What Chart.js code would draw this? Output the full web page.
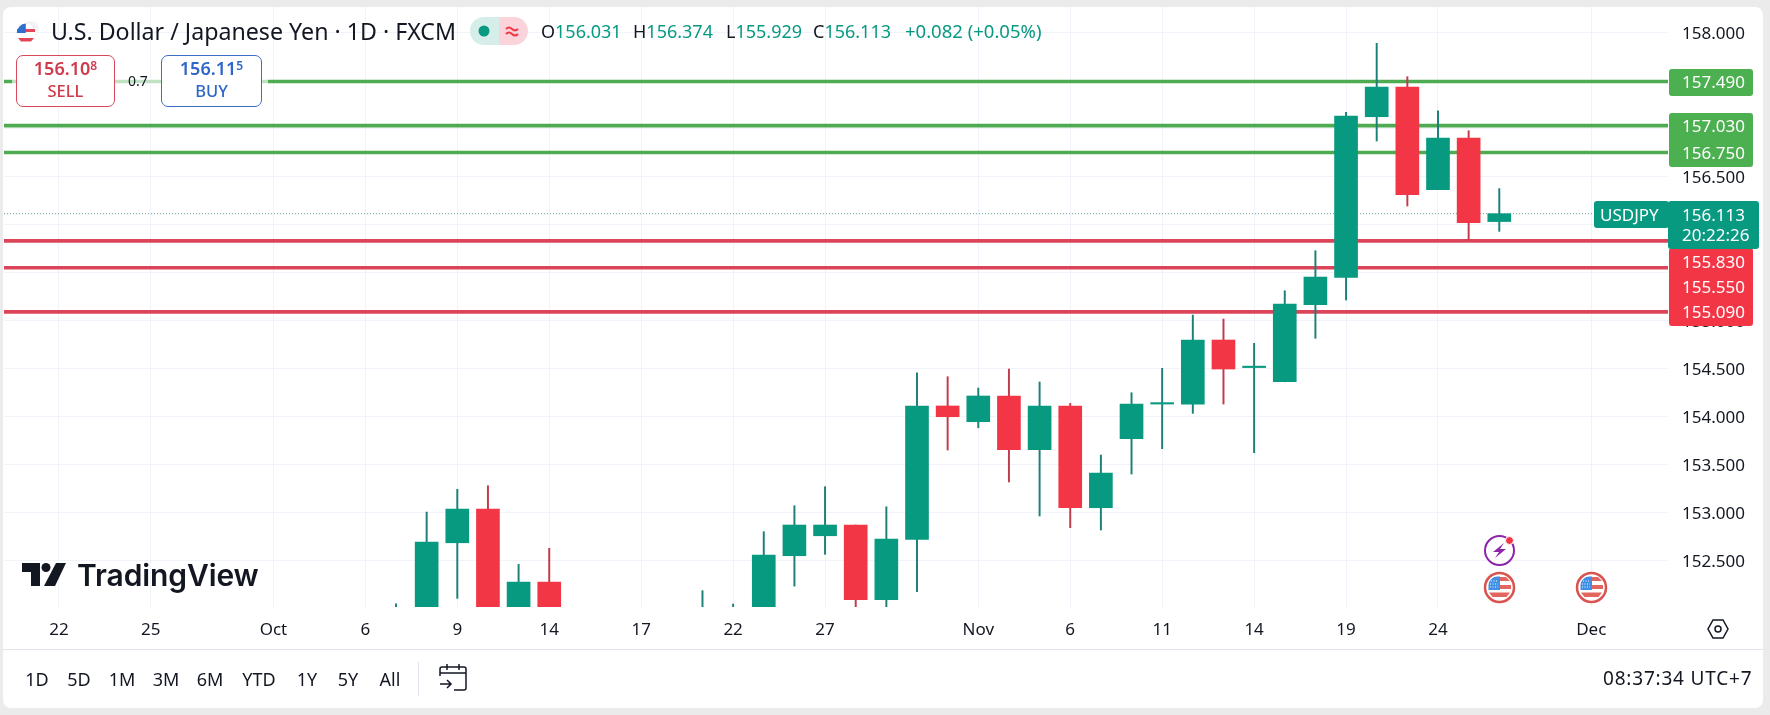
<!DOCTYPE html>
<html>
<head>
<meta charset="utf-8">
<title>USDJPY</title>
<script src="https://cdn.jsdelivr.net/npm/chart.js@4/dist/chart.umd.js"></script>
<style>
html, body { margin: 0; padding: 0; background: #ebebeb; width: 1770px; height: 715px; overflow: hidden; }
body { font-family: "Noto Sans", sans-serif; color: #131722; }
#panel { position: absolute; left: 3px; top: 7px; width: 1760px; height: 701px; background: #fff; border-radius: 8px; }
#sep { position: absolute; left: 3px; top: 649px; width: 1760px; height: 1px; background: #e0e3eb; }
canvas { position: absolute; left: 0; top: 0; }
.t { position: absolute; white-space: nowrap; line-height: 1; }
.g { color: #089981; }
.box { position: absolute; top: 55px; height: 49px; background: #fff; border-radius: 7px; text-align: center; font-size: 16.5px; font-weight: 500; line-height: 22px; padding-top: 1px; }
.box b { font-size: 18px; font-weight: 600; }
.box sup { font-size: 12px; line-height: 0; vertical-align: 5px; font-weight: 600; }
.btn { position: absolute; top: 669px; font-size: 18px; line-height: 20px; transform: translateX(-50%); }
svg { position: absolute; overflow: visible; }
</style>
</head>
<body>
<div id="panel"></div>
<div id="sep"></div>
<canvas id="chart" width="1770" height="715"></canvas>

<!-- cabecalho -->
<svg style="left:16px;top:20px" width="24" height="24" viewBox="0 0 24 24">
  <circle cx="15" cy="9" r="8" fill="#f3f4f8"/><circle cx="15" cy="9" r="3" fill="#e2465a"/>
  <circle cx="10" cy="13" r="9.5" fill="#fff"/>
  <path d="M1 9h18v3H1zM2 18h16l-3 3.5H5z" fill="#e2465a"/>
  <path d="M.8 13a9.5 9.5 0 0 1 9-9.5V13z" fill="#2f6fd0"/>
</svg>
<div class="t" style="left:51px;top:20px;font-size:23.2px">U.S. Dollar / Japanese Yen · 1D · FXCM</div>
<svg style="left:470px;top:17px" width="58" height="28" viewBox="0 0 58 28">
  <path d="M14 0H29V28H14a14 14 0 0 1 0-28z" fill="#d5eee9"/>
  <path d="M29 0H44a14 14 0 0 1 0 28H29z" fill="#fbd3da"/>
  <circle cx="14" cy="14" r="5.5" fill="#089981"/>
  <path d="M36 12q3-3 6 0t6 0M36 17q3-3 6 0t6 0" fill="none" stroke="#f23645" stroke-width="2"/>
</svg>
<div class="t" style="left:541px;top:22px;font-size:18px">O<span class="g">156.031</span></div>
<div class="t" style="left:633px;top:22px;font-size:18px">H<span class="g">156.374</span></div>
<div class="t" style="left:726px;top:22px;font-size:18px">L<span class="g">155.929</span></div>
<div class="t" style="left:813px;top:22px;font-size:18px">C<span class="g">156.113</span></div>
<div class="t g" style="left:905px;top:22px;font-size:18.5px">+0.082 (+0.05%)</div>

<!-- sell / buy -->
<div style="position:absolute;left:12px;top:78px;width:256px;height:7px;background:rgba(255,255,255,.65)"></div>
<div class="box" style="left:16px;width:97px;border:1px solid #d9475a;color:#cf3a4c"><b>156.10</b><sup>8</sup><br>SELL</div>
<div class="box" style="left:161px;width:99px;border:1px solid #3d6fc4;color:#2f66c8"><b>156.11</b><sup>5</sup><br>BUY</div>
<div class="t" style="left:128px;top:74px;font-size:14px">0.7</div>

<!-- marca -->
<svg style="left:22px;top:563px" width="44" height="23" viewBox="0 0 44 23">
  <path d="M0 0H18V23H9V9H0z" fill="#131722"/><circle cx="24" cy="4.5" r="4.5" fill="#131722"/>
  <path d="M34 0H44L33 23H22z" fill="#131722"/>
</svg>
<div class="t" style="left:77px;top:560px;font-family:Inter,sans-serif;font-weight:600;font-size:30px;letter-spacing:-.1px">TradingView</div>

<!-- eventos -->
<svg style="left:1484px;top:535px" width="31" height="31" viewBox="0 0 31 31">
  <circle cx="15.5" cy="15.5" r="14.5" fill="#fff" stroke="#8e24aa" stroke-width="2"/>
  <path d="M20 8 9 17h6l-4 6 11-9h-6z" fill="#8e24aa"/><circle cx="25.5" cy="5.5" r="4" fill="#f23645" stroke="#fff"/>
</svg>
<svg style="left:1484px;top:572px" width="31" height="31" viewBox="0 0 31 31">
  <circle cx="15.5" cy="15.5" r="14.5" fill="#fff" stroke="#d9534f" stroke-width="2.500"/>
  <path d="M15 5h7l4 4H15zM15 13h12v4H15zM5 20.500h21l-3.500 4.500h-14z" fill="#e2665f"/>
  <path d="M4.500 18V13a9 9 0 0 1 9-8.500H16v13.500z" fill="#3f8fe6"/>
  <path d="M7 9h7M6 12h8M6 15h8" stroke="#fff" stroke-width="1" stroke-dasharray="1 1.500"/>
</svg>
<svg style="left:1576px;top:572px" width="31" height="31" viewBox="0 0 31 31">
  <circle cx="15.5" cy="15.5" r="14.5" fill="#fff" stroke="#d9534f" stroke-width="2.500"/>
  <path d="M15 5h7l4 4H15zM15 13h12v4H15zM5 20.500h21l-3.500 4.500h-14z" fill="#e2665f"/>
  <path d="M4.500 18V13a9 9 0 0 1 9-8.500H16v13.500z" fill="#3f8fe6"/>
  <path d="M7 9h7M6 12h8M6 15h8" stroke="#fff" stroke-width="1" stroke-dasharray="1 1.500"/>
</svg>
<svg style="left:1707px;top:619px" width="22" height="20" viewBox="0 0 22 20">
  <path d="M6 1H16L21 10 16 19H6L1 10z" fill="none" stroke="#131722" stroke-width="1.500"/><circle cx="11" cy="10" r="3" fill="none" stroke="#131722" stroke-width="1.500"/>
</svg>

<!-- barra inferior -->
<div class="btn" style="left:37px">1D</div>
<div class="btn" style="left:79px">5D</div>
<div class="btn" style="left:122px">1M</div>
<div class="btn" style="left:166px">3M</div>
<div class="btn" style="left:210px">6M</div>
<div class="btn" style="left:259px">YTD</div>
<div class="btn" style="left:307px">1Y</div>
<div class="btn" style="left:348px">5Y</div>
<div class="btn" style="left:390px">All</div>
<div style="position:absolute;left:418px;top:662px;width:1px;height:34px;background:#e0e3eb"></div>
<svg style="left:439px;top:664px" width="28" height="27" viewBox="0 0 28 27">
  <path d="M1 12V5a2 2 0 0 1 2-2h22a2 2 0 0 1 2 2v19a2 2 0 0 1-2 2H15M1 9h26M8 0v6M20 0v6M1 20h11M8 16l4 4-4 4" fill="none" stroke="#131722" stroke-width="1.500"/>
</svg>
<div class="t" style="left:1603px;top:669px;font-size:19px;letter-spacing:.8px">08:37:34 UTC+7</div>

<script>
// Dados (null = fora da area visivel)
const categories = ['Sep 22', 'Sep 23', 'Sep 24', 'Sep 25', 'Sep 26', 'Sep 29', 'Sep 30', 'Oct 1', 'Oct 2', 'Oct 3',
    'Oct 6', 'Oct 7', 'Oct 8', 'Oct 9', 'Oct 10', 'Oct 13', 'Oct 14', 'Oct 15', 'Oct 16', 'Oct 17',
    'Oct 20', 'Oct 21', 'Oct 22', 'Oct 23', 'Oct 24', 'Oct 27', 'Oct 28', 'Oct 29', 'Oct 30', 'Oct 31',
    'Nov 3', 'Nov 4', 'Nov 5', 'Nov 6', 'Nov 7', 'Nov 10', 'Nov 11', 'Nov 12', 'Nov 13', 'Nov 14',
    'Nov 17', 'Nov 18', 'Nov 19', 'Nov 20', 'Nov 21', 'Nov 24', 'Nov 25', 'Nov 26', 'Nov 27', 'Nov 28', 'Dec 1'];
const opens = [null, null, null, null, null, null, null, null, null, null,
    null, 151.8, 151.8, 152.685, 153.036, 151.9, 152.276, null, null, null,
    null, 151.85, 151.85, 151.8, 152.55, 152.758, 152.87, 152.092, 152.721, 154.11,
    153.946, 154.214, 153.654, 154.11, 153.05, 153.769, 154.13, 154.13, 154.797, 154.51,
    154.362, 155.165, 155.45, 157.123, 157.432, 156.363, 156.901, 156.031, null, null, null];
const closes = [null, null, null, null, null, null, null, null, null, null,
    null, 151.9, 152.693, 153.036, 151.9, 152.276, 151.9, null, null, null,
    null, 151.9, 151.9, 152.557, 152.87, 152.87, 152.092, 152.724, 154.11, 153.998,
    154.214, 153.654, 154.11, 153.05, 153.411, 154.13, 154.145, 154.797, 154.495, 154.525,
    155.172, 155.453, 157.13, 157.432, 156.31, 156.901, 156.019, 156.113, null, null, null];
const highs = [null, null, null, null, null, null, null, null, null, null,
    null, 152.05, 153.005, 153.242, 153.279, 152.46, 152.627, null, null, null,
    null, 152.186, 152.047, 152.8, 153.071, 153.269, 152.87, 153.06, 154.456, 154.415,
    154.297, 154.495, 154.36, 154.137, 153.599, 154.248, 154.502, 155.057, 155.016, 154.763,
    155.31, 155.727, 157.169, 157.888, 157.54, 157.185, 156.977, 156.374, null, null, null];
const lows = [null, null, null, null, null, null, null, null, null, null,
    null, 151.7, 151.7, 152.106, 151.8, 151.8, 151.8, null, null, null,
    null, 151.8, 151.8, 151.7, 152.234, 152.565, 152.0, 152.0, 152.176, 153.651,
    153.883, 153.318, 152.964, 152.842, 152.818, 153.401, 153.665, 154.033, 154.13, 153.623,
    154.362, 154.815, 155.214, 156.87, 156.193, 156.363, 155.839, 155.929, null, null, null];
const tickDates = ['Sep 22', 'Sep 25', 'Oct 1', 'Oct 6', 'Oct 9', 'Oct 14', 'Oct 17', 'Oct 22', 'Oct 27',
    'Nov 3', 'Nov 6', 'Nov 11', 'Nov 14', 'Nov 19', 'Nov 24', 'Dec 1'];
const tickLabels = ['22', '25', 'Oct', '6', '9', '14', '17', '22', '27', 'Nov', '6', '11', '14', '19', '24', 'Dec'];
const greenLevels = [157.49, 157.03, 156.75];
const redLevels = [155.83, 155.55, 155.09];
const lastPrice = 156.113;
const lastSymbol = 'USDJPY';
const countdown = '20:22:26';

const GREEN = '#089981';
const RED = '#f23645';
const X_MIN = -1.791;
const X_MAX = 52.505;

const visible = categories.map((d, i) => i).filter(i => highs[i] !== null);
const candleColors = visible.map(i => closes[i] >= opens[i] ? GREEN : RED);
const wickColors = visible.map(i => closes[i] >= opens[i] ? '#1a8078' : '#c23a4c');

function levelDataset(value, color, width, dash) {
    return {
        type: 'line',
        data: [{ x: X_MIN, y: value }, { x: X_MAX, y: value }],
        borderColor: color,
        borderWidth: width,
        borderDash: dash || [],
        pointRadius: 0,
        order: 3
    };
}

// Sem margem extra: a area do grafico fica exatamente no painel
function clearPadding(scale) {
    scale.paddingLeft = 0;
    scale.paddingRight = 0;
    scale.paddingTop = 0;
    scale.paddingBottom = 0;
}

// Etiquetas de preco na escala direita
const priceLabels = {
    id: 'priceLabels',
    afterDraw(chart) {
        const c = chart.ctx;
        const y = chart.scales.y;
        const tx = 1682;
        function box(x, top, w, h, color) {
            c.fillStyle = color;
            c.beginPath();
            c.roundRect(x, top, w, h, 3);
            c.fill();
        }
        function label(text, py, x) {
            c.fillStyle = '#fff';
            c.fillText(text, x || tx, py);
        }
        c.save();
        c.font = '17px "Noto Sans"';
        c.textBaseline = 'middle';
        c.textAlign = 'left';

        box(1669, 69, 84, 27, '#4caf50');
        box(1669, 113, 84, 54, '#4caf50');
        label(greenLevels[0].toFixed(3), y.getPixelForValue(greenLevels[0]) + 2);
        label(greenLevels[1].toFixed(3), y.getPixelForValue(greenLevels[1]) + 2);
        label(greenLevels[2].toFixed(3), y.getPixelForValue(greenLevels[2]) + 2);

        box(1669, 248, 84, 78, RED);
        label(redLevels[0].toFixed(3), 263);
        label(redLevels[1].toFixed(3), 288);
        label(redLevels[2].toFixed(3), 313.5);

        box(1594, 201, 75, 27, GREEN);
        box(1668, 201, 91, 48, GREEN);
        label(lastSymbol, 216, 1600);
        label(lastPrice.toFixed(3), y.getPixelForValue(lastPrice) + 2);
        label(countdown, 236.5);
        c.restore();
    }
};

new Chart(document.getElementById('chart'), {
    type: 'bar',
    data: {
        datasets: [
            ...greenLevels.map(v => levelDataset(v, '#4fab52', 3.6)),
            ...redLevels.map(v => levelDataset(v, '#dc4459', 3.6)),
            levelDataset(lastPrice, '#5f9f96', 1, [1, 2]),
            {
                data: visible.map(i => ({ x: i, y: [lows[i], highs[i]] })),
                backgroundColor: wickColors,
                barThickness: 1.3,
                grouped: false,
                order: 2
            },
            {
                data: visible.map(i => ({ x: i, y: [opens[i], closes[i]] })),
                backgroundColor: candleColors,
                barThickness: 23,
                grouped: false,
                order: 1
            }
        ]
    },
    options: {
        responsive: false,
        animation: false,
        events: [],
        layout: { padding: { left: 4, top: 7, right: 0, bottom: 0 } },
        plugins: { legend: { display: false }, tooltip: { enabled: false } },
        scales: {
            x: {
                type: 'linear',
                offset: false,
                min: X_MIN,
                max: X_MAX,
                border: { display: false },
                grid: { offset: false, color: '#f0f3fa', lineWidth: 1, drawTicks: false },
                afterBuildTicks(scale) {
                    scale.ticks = tickDates.map(d => ({ value: categories.indexOf(d) }));
                },
                afterFit(scale) {
                    scale.height = 108;
                    clearPadding(scale);
                },
                ticks: {
                    autoSkip: false,
                    maxRotation: 0,
                    padding: 13,
                    color: '#131722',
                    font: { family: '"Noto Sans"', size: 17 },
                    callback: (v, i) => tickLabels[i]
                }
            },
            y: {
                position: 'right',
                min: 152.016,
                max: 158.266,
                border: { display: false },
                grid: { color: '#f0f3fa', lineWidth: 1, drawTicks: false },
                afterFit(scale) {
                    scale.width = 102;
                    clearPadding(scale);
                },
                ticks: {
                    stepSize: 0.5,
                    includeBounds: false,
                    padding: 14,
                    labelOffset: 2,
                    color: '#131722',
                    font: { family: '"Noto Sans"', size: 17 },
                    callback: v => v.toFixed(3)
                }
            }
        }
    },
    plugins: [priceLabels]
});
</script>
</body>
</html>
